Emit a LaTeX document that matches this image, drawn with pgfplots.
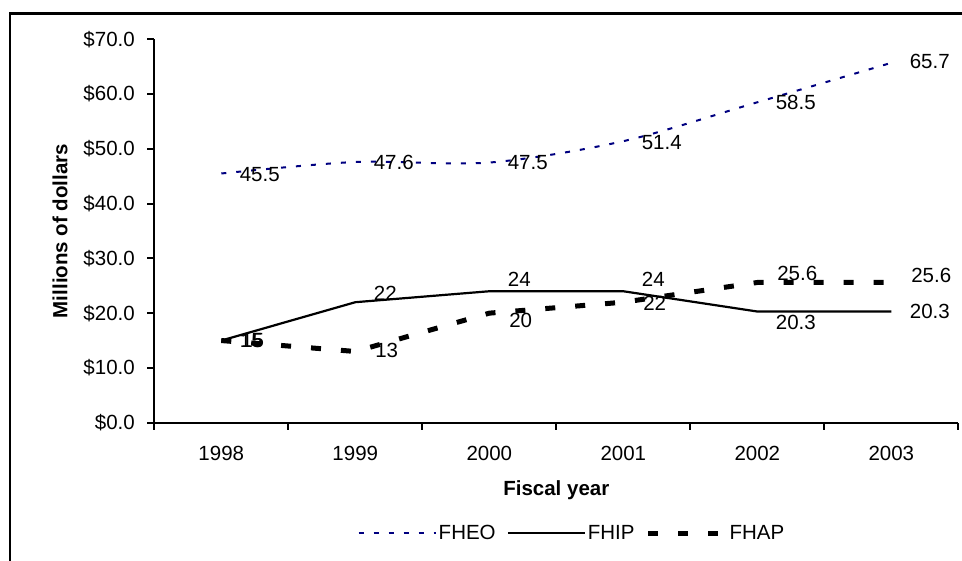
\documentclass[border=0pt]{standalone}
\usepackage{fontspec}
\setmainfont{Liberation Sans}
\usepackage{pgfplots}
\usepackage{pgfplotstable}
\pgfplotsset{compat=1.18}

\definecolor{navy}{RGB}{0,0,128}
\newcommand{\cf}{\fontsize{20.5bp}{24bp}\selectfont}

% x: 1 = 1998 ... 6 = 2003; dy = label shift in pt
\pgfplotstableread{
x y lab dy
1 45.5 45.5 -1.5
2 47.6 47.6 0
3 47.5 47.5 0
4 51.4 51.4 -1
5 58.5 58.5 0
6 65.7 65.7 1
}\fheo

\pgfplotstableread{
x y lab dy
1 15 15 0
2 22 22 9
3 24 24 12
4 24 24 12
5 20.3 20.3 -10.5
6 20.3 20.3 0
}\fhip

\pgfplotstableread{
x y lab dy
1 15 15 0
2 13 13 1.5
3 20 20 -7
4 22 22 -1
5 25.6 25.6 9.5
6 25.6 25.6 7.5
}\fhap

\begin{document}
\begin{tikzpicture}
\path[use as bounding box] (0bp,0bp) rectangle (962bp,561bp);
\draw[line width=2.8bp] (10bp,-5bp) -- (10bp,547.7bp) -- (970bp,547.7bp);
\begin{axis}[
    at={(154.3bp,138.3bp)}, anchor=south west,
    scale only axis,
    width=804bp, height=383.4bp,
    xmin=0.5, xmax=6.5,
    ymin=0, ymax=70,
    axis x line*=bottom, axis y line*=left,
    every outer x axis line/.append style={-},
    every outer y axis line/.append style={-},
    axis line style={black, line width=1.8bp},
    tick align=outside,
    major tick length=7bp, minor tick length=7bp,
    tick style={black, line width=1.8bp},
    xtick={1,...,6},
    xticklabels={1998,1999,2000,2001,2002,2003},
    major x tick style={draw=none},
    minor xtick={0.5,1.5,...,6.5},
    ytick={0,10,...,70},
    yticklabels={\$0.0,\$10.0,\$20.0,\$30.0,\$40.0,\$50.0,\$60.0,\$70.0},
    ticklabel style={font=\cf},
    xticklabel style={yshift=-13bp},
    yticklabel style={xshift=-9bp},
    xlabel={Fiscal year},
    ylabel={Millions of dollars},
    label style={font=\cf\bfseries},
    xlabel style={at={(axis description cs:0.5,-0.1755)}, anchor=center},
    ylabel style={at={(axis description cs:-0.1173,0.5)}, anchor=center},
    legend columns=-1,
    legend style={at={(axis description cs:0.5195,-0.2877)}, anchor=center,
        draw=none, fill=none, font=\cf,
        /tikz/every even column/.append style={column sep=9bp}},
    legend image code/.code={\draw[#1] (0bp,0bp) -- (77bp,0bp);},
    clip=false,
    point meta=explicit symbolic,
    nodes near coords={\pgfplotspointmeta},
    visualization depends on={\thisrow{dy}\as\dy},
    nodes near coords style={font=\cf, text=black, anchor=west,
        inner sep=0pt, xshift=17.5bp, yshift=\dy},
]
\addplot[navy, line width=2bp, dash pattern=on 5bp off 10bp, smooth, tension=0.5]
    table[x=x, y=y, meta=lab] {\fheo};
\addplot[black, line width=2.2bp]
    table[x=x, y=y, meta=lab] {\fhip};
\addplot[black, line width=5bp, dash pattern=on 10bp off 20bp]
    table[x=x, y=y, meta=lab] {\fhap};
\legend{FHEO,FHIP,FHAP}
\end{axis}
\end{tikzpicture}
\end{document}
